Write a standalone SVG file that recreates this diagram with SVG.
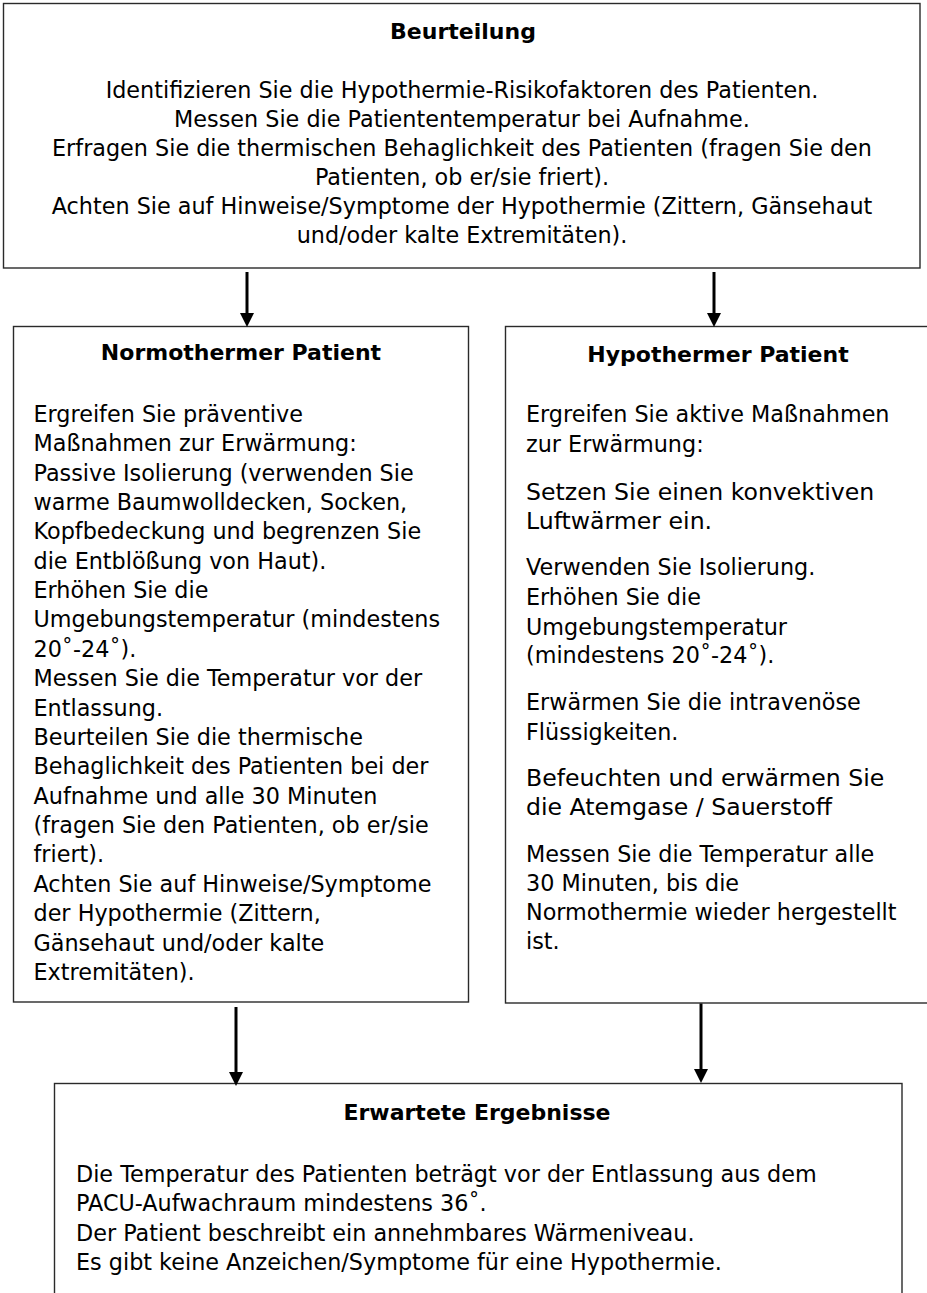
<svg xmlns="http://www.w3.org/2000/svg" width="927" height="1293" viewBox="0 0 927 1293">
<style>
.box{fill:#fff;stroke:#2a2a2a;stroke-width:1.4}
.t{font-family:"DejaVu Sans",Verdana,sans-serif;font-size:22.3px;fill:#000}
.b{font-family:"DejaVu Sans",Verdana,sans-serif;font-size:22px;font-weight:bold;fill:#000}
.c{text-anchor:middle}
.lg{font-size:23.6px}
.conn{stroke:#000;stroke-width:3;fill:none}
</style>
<defs>
<marker id="ah" viewBox="0 0 14 14" refX="4" refY="7" markerWidth="14" markerHeight="14" markerUnits="userSpaceOnUse" orient="auto">
<path d="M0,0 L14,7 L0,14 z" fill="#000"/>
</marker>
</defs>
<rect width="927" height="1293" fill="#fff"/>

<g id="beurteilung">
<rect class="box" x="3.5" y="3.5" width="916.5" height="264.5"/>
<text class="b c" x="463" y="39">Beurteilung</text>
<text class="t c" x="462" y="97.5">Identifizieren Sie die Hypothermie-Risikofaktoren des Patienten.</text>
<text class="t c" x="462" y="126.7">Messen Sie die Patiententemperatur bei Aufnahme.</text>
<text class="t c" x="462" y="156">Erfragen Sie die thermischen Behaglichkeit des Patienten (fragen Sie den</text>
<text class="t c" x="462" y="185">Patienten, ob er/sie friert).</text>
<text class="t c" x="462" y="214.3">Achten Sie auf Hinweise/Symptome der Hypothermie (Zittern, Gänsehaut</text>
<text class="t c" x="462" y="243.3">und/oder kalte Extremitäten).</text>
</g>

<g id="normotherm">
<rect class="box" x="13.5" y="326.5" width="455" height="675.5"/>
<text class="b c" x="241" y="360">Normothermer Patient</text>
<text class="t" x="33.5" y="421.7">Ergreifen Sie präventive</text>
<text class="t" x="33.5" y="451.1">Maßnahmen zur Erwärmung:</text>
<text class="t" x="33.5" y="480.5">Passive Isolierung (verwenden Sie</text>
<text class="t" x="33.5" y="509.8">warme Baumwolldecken, Socken,</text>
<text class="t" x="33.5" y="539.2">Kopfbedeckung und begrenzen Sie</text>
<text class="t" x="33.5" y="568.6">die Entblößung von Haut).</text>
<text class="t" x="33.5" y="598">Erhöhen Sie die</text>
<text class="t" x="33.5" y="627.4">Umgebungstemperatur (mindestens</text>
<text class="t" x="33.5" y="656.7">20˚-24˚).</text>
<text class="t" x="33.5" y="686.1">Messen Sie die Temperatur vor der</text>
<text class="t" x="33.5" y="715.5">Entlassung.</text>
<text class="t" x="33.5" y="744.9">Beurteilen Sie die thermische</text>
<text class="t" x="33.5" y="774.3">Behaglichkeit des Patienten bei der</text>
<text class="t" x="33.5" y="803.6">Aufnahme und alle 30 Minuten</text>
<text class="t" x="33.5" y="833">(fragen Sie den Patienten, ob er/sie</text>
<text class="t" x="33.5" y="862.4">friert).</text>
<text class="t" x="33.5" y="891.8">Achten Sie auf Hinweise/Symptome</text>
<text class="t" x="33.5" y="921.2">der Hypothermie (Zittern,</text>
<text class="t" x="33.5" y="950.5">Gänsehaut und/oder kalte</text>
<text class="t" x="33.5" y="980">Extremitäten).</text>
</g>

<g id="hypotherm">
<rect class="box" x="505.5" y="326.5" width="430" height="676.5"/>
<text class="b c" x="718" y="361.7">Hypothermer Patient</text>
<text class="t" x="526" y="421.7">Ergreifen Sie aktive Maßnahmen</text>
<text class="t" x="526" y="451.7">zur Erwärmung:</text>
<text class="t lg" x="526" y="500">Setzen Sie einen konvektiven</text>
<text class="t lg" x="526" y="528.5">Luftwärmer ein.</text>
<text class="t" x="526" y="575">Verwenden Sie Isolierung.</text>
<text class="t" x="526" y="605">Erhöhen Sie die</text>
<text class="t" x="526" y="634.5">Umgebungstemperatur</text>
<text class="t" x="526" y="663.3">(mindestens 20˚-24˚).</text>
<text class="t" x="526" y="710">Erwärmen Sie die intravenöse</text>
<text class="t" x="526" y="740">Flüssigkeiten.</text>
<text class="t lg" x="526" y="786">Befeuchten und erwärmen Sie</text>
<text class="t lg" x="526" y="815">die Atemgase / Sauerstoff</text>
<text class="t" x="526" y="861.7">Messen Sie die Temperatur alle</text>
<text class="t" x="526" y="890.5">30 Minuten, bis die</text>
<text class="t" x="526" y="920">Normothermie wieder hergestellt</text>
<text class="t" x="526" y="949.3">ist.</text>
</g>

<g id="ergebnisse">
<rect class="box" x="54.5" y="1083.5" width="847.5" height="220"/>
<text class="b c" x="477" y="1120">Erwartete Ergebnisse</text>
<text class="t" x="76" y="1181.5">Die Temperatur des Patienten beträgt vor der Entlassung aus dem</text>
<text class="t" x="76" y="1211">PACU-Aufwachraum mindestens 36˚.</text>
<text class="t" x="76" y="1240.5">Der Patient beschreibt ein annehmbares Wärmeniveau.</text>
<text class="t" x="76" y="1270">Es gibt keine Anzeichen/Symptome für eine Hypothermie.</text>
</g>

<g id="connectors">
<line class="conn" x1="247" y1="272" x2="247" y2="317" marker-end="url(#ah)"/>
<line class="conn" x1="714" y1="272" x2="714" y2="317" marker-end="url(#ah)"/>
<line class="conn" x1="236" y1="1007" x2="236" y2="1076" marker-end="url(#ah)"/>
<line class="conn" x1="701" y1="1003.5" x2="701" y2="1073" marker-end="url(#ah)"/>
</g>
</svg>
